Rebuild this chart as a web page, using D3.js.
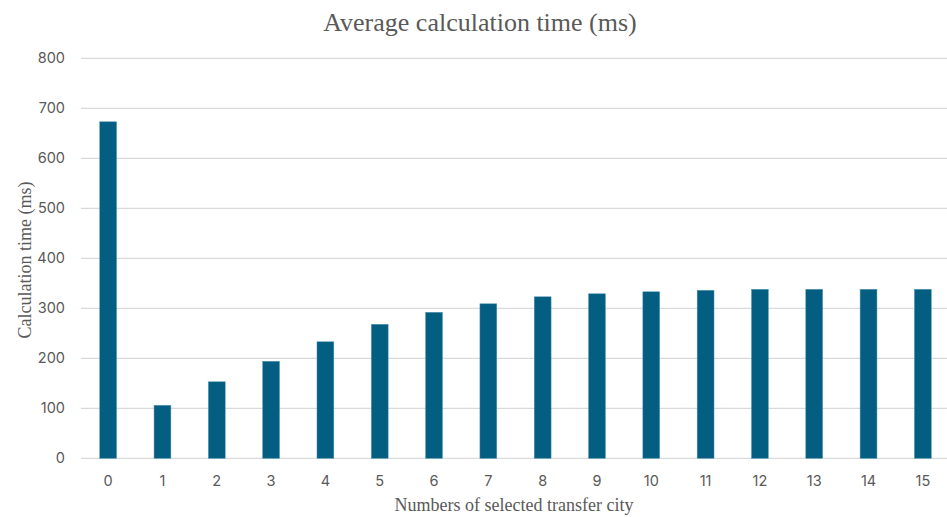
<!DOCTYPE html>
<html>
<head>
<meta charset="utf-8">
<script src="https://cdn.jsdelivr.net/npm/d3@7"></script>
<style>
  html, body { margin: 0; padding: 0; background: #fff; }
  svg { display: block; }
</style>
</head>
<body>
<svg id="chart" width="947" height="517"></svg>
<script>
const categories = ["0","1","2","3","4","5","6","7","8","9","10","11","12","13","14","15"];
const values = [673, 106, 153, 194, 233, 268, 292, 309, 323, 329, 333, 336, 338, 338, 338, 338];
const yTicks = [0, 100, 200, 300, 400, 500, 600, 700, 800];
const titleText = "Average calculation time (ms)";
const xTitle = "Numbers of selected transfer city";
const yTitle = "Calculation time (ms)";

(function () {
const svg = d3.select("#chart");
const W = 947;
const mLeft = 81, mRight = 950, mTop = 58.3, mBottom = 458.3;

const x = d3.scaleBand().domain(categories).range([mLeft, mRight])
  .paddingInner(0.69).paddingOuter(0.345);
const y = d3.scaleLinear().domain([0, 800]).range([mBottom, mTop]);

// gridlines
svg.append("g").selectAll("line").data(yTicks).join("line")
  .attr("x1", mLeft).attr("x2", W)
  .attr("y1", d => y(d)).attr("y2", d => y(d))
  .attr("stroke", "#d9d9d9").attr("stroke-width", 1.3);

// y tick labels
svg.append("g").selectAll("text").data(yTicks).join("text")
  .attr("x", 65).attr("y", d => y(d))
  .attr("dy", "0.35em").attr("text-anchor", "end")
  .attr("font-family", "Inter, 'Open Sans', sans-serif")
  .attr("font-size", 14.5).attr("fill", "#595959")
  .text(d => d);

// bars
svg.append("g").selectAll("rect").data(values).join("rect")
  .attr("x", (d, i) => x(categories[i]))
  .attr("width", x.bandwidth())
  .attr("y", d => y(d))
  .attr("height", d => y(0) - y(d))
  .attr("fill", "#035E82")
  .attr("stroke", "#4f95b3").attr("stroke-width", 0.5);

// x tick labels
svg.append("g").selectAll("text").data(categories).join("text")
  .attr("x", d => x(d) + x.bandwidth() / 2).attr("y", 481)
  .attr("dy", "0.35em").attr("text-anchor", "middle")
  .attr("font-family", "Inter, 'Open Sans', sans-serif")
  .attr("font-size", 14.5).attr("fill", "#595959")
  .text(d => d);

// title
svg.append("text").attr("x", 480).attr("y", 31)
  .attr("text-anchor", "middle")
  .attr("font-family", "'Liberation Serif', 'Times New Roman', serif")
  .attr("font-size", 26).attr("fill", "#595959")
  .text(titleText);

// x title
svg.append("text").attr("x", 514).attr("y", 511)
  .attr("text-anchor", "middle")
  .attr("font-family", "'Liberation Serif', 'Times New Roman', serif")
  .attr("font-size", 18).attr("fill", "#595959")
  .text(xTitle);

// y title
svg.append("text")
  .attr("transform", "translate(31,260) rotate(-90)")
  .attr("text-anchor", "middle")
  .attr("font-family", "'Liberation Serif', 'Times New Roman', serif")
  .attr("font-size", 18).attr("fill", "#595959")
  .text(yTitle);
})();
</script>
</body>
</html>
